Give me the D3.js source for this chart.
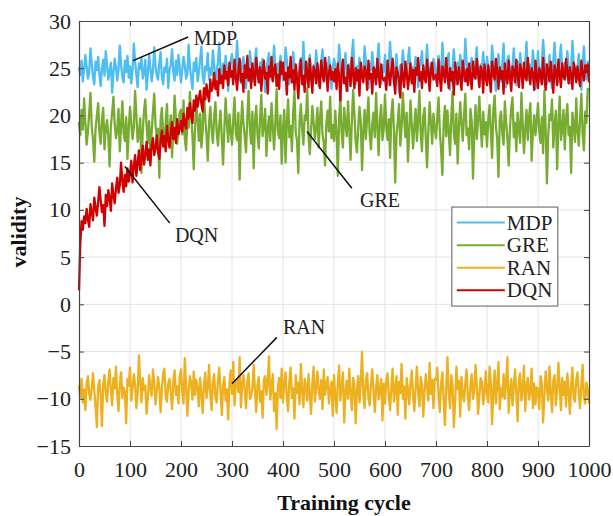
<!DOCTYPE html>
<html>
<head>
<meta charset="utf-8">
<script src="https://cdn.jsdelivr.net/npm/d3@7"></script>
<style>
  body { margin: 0; background: #fff; }
  text { font-family: "Liberation Serif", "Times New Roman", serif; }
</style>
</head>
<body>
<div id="chart"></div>
<script>
// values, one point every 2.5 training cycles
const step = 2.5;
const mdp = [
  25.1,24.3,25.8,23.6,24.9,26.4,25.2,23.9,24.6,27.1,25.5,24.0,23.3,25.7,24.8,26.2,24.4,23.1,25.0,25.9,
  24.2,26.8,25.3,23.8,24.7,25.6,22.4,24.5,26.0,25.1,23.7,24.9,27.4,25.4,24.1,23.5,25.8,24.6,26.3,24.0,
  25.2,23.4,24.8,27.6,25.7,24.3,23.0,25.5,24.9,26.1,23.9,24.5,25.9,22.7,24.4,26.5,25.0,23.6,24.7,27.2,
  25.3,24.2,23.8,25.6,26.7,24.1,23.3,25.1,24.6,26.0,22.9,24.8,25.4,27.0,24.5,23.7,25.8,24.3,26.4,25.0,
  23.5,24.9,26.2,25.3,23.9,24.4,27.5,25.1,24.0,22.8,25.6,24.7,26.1,23.6,24.5,25.9,27.3,24.2,23.4,25.2,
  24.8,26.6,23.8,25.0,24.3,26.9,25.4,23.2,24.6,25.7,27.7,24.9,23.7,25.5,24.1,26.3,25.0,22.6,24.8,25.8,
  26.5,24.4,23.9,25.3,27.9,25.0,24.2,23.4,25.7,26.2,24.6,22.9,25.1,24.0,26.8,25.4,23.6,24.7,25.9,27.1,
  24.3,23.5,25.6,24.8,26.0,25.2,22.5,24.5,25.8,26.6,24.1,23.8,25.3,27.4,24.9,23.2,25.5,24.4,26.3,25.0,
  23.7,24.6,27.2,25.9,24.2,23.3,25.4,24.8,26.7,25.1,23.9,24.5,22.7,25.6,26.1,24.3,27.8,25.0,23.6,24.9,
  25.7,26.4,24.0,23.4,25.3,24.7,26.9,25.2,23.1,24.6,25.8,27.0,24.4,23.8,25.5,24.1,26.2,25.0,22.8,24.9,
  26.0,25.3,23.7,24.8,27.5,25.6,24.2,23.5,25.1,26.6,24.4,22.6,25.4,24.9,26.3,28.0,24.7,23.3,25.2,24.5,
  26.1,25.0,23.9,24.6,27.3,25.7,24.1,22.9,25.5,24.8,26.7,25.1,23.6,24.3,25.9,27.6,24.9,23.4,25.3,24.6,
  26.4,24.0,23.2,25.6,27.8,25.2,24.5,23.7,25.0,26.5,24.2,22.4,25.3,24.8,26.9,25.5,23.9,24.4,25.8,27.2,
  24.6,23.5,25.1,24.7,26.2,25.4,23.0,24.9,25.7,26.8,24.3,23.8,25.2,27.5,24.8,23.4,25.6,24.1,26.0,25.3,
  23.6,24.7,26.3,25.0,24.1,27.7,25.5,23.8,24.6,25.9,26.6,22.7,24.4,25.2,27.0,24.9,23.3,25.6,24.5,26.4,
  25.1,23.7,24.8,28.1,25.7,24.2,23.5,25.3,26.1,24.6,23.9,25.8,27.2,24.3,23.1,25.4,24.9,26.7,25.0,23.8,
  26.2,25.1,23.4,24.8,27.4,25.8,24.3,22.6,25.2,26.5,24.7,23.6,25.5,27.6,24.4,23.0,25.9,26.3,24.6,23.8,
  25.3,27.1,24.9,23.2,25.7,24.2,26.6,25.0,23.5,24.7,25.6,27.8,24.1,23.7,25.4,24.8,26.9,25.2,22.8,24.5,
  26.8,24.2,23.6,25.5,28.0,26.1,24.6,23.3,25.0,26.4,24.0,22.9,25.8,27.7,25.3,24.4,23.5,26.0,27.5,24.7,
  23.9,25.6,24.1,26.8,25.2,23.4,24.9,27.9,25.5,24.3,23.7,25.1,26.5,24.6,22.7,25.4,27.3,24.8,23.8,25.7,
  24.3
];
const gre = [
  19.3,17.9,20.6,18.5,21.8,19.2,16.9,18.3,20.2,22.4,18.8,17.4,15.1,18.6,19.9,21.3,18.2,17.0,19.6,20.8,
  16.4,18.7,19.5,17.8,14.6,18.9,20.3,22.0,19.1,17.6,18.4,20.7,16.2,19.0,21.5,18.1,17.3,19.8,15.4,18.6,
  20.9,19.2,17.5,18.8,22.6,20.1,17.2,18.0,19.7,13.9,18.3,20.5,21.7,18.9,17.1,19.4,16.0,18.2,20.4,22.3,
  19.0,17.7,18.6,13.4,19.5,20.8,18.1,16.7,19.3,21.2,17.4,18.5,20.0,15.6,18.8,22.1,19.6,17.0,18.4,20.3,
  20.6,18.0,21.6,17.5,16.3,19.4,18.7,22.5,20.0,17.8,14.3,18.9,21.1,19.5,17.3,20.2,16.6,18.4,22.7,19.7,
  17.9,15.2,19.2,20.9,18.5,17.1,19.8,21.4,18.2,16.8,19.0,20.5,17.6,14.8,18.6,21.8,19.3,17.2,20.1,18.3,
  16.9,19.5,21.9,18.1,17.4,20.3,13.2,18.7,21.5,19.1,17.7,16.1,19.8,22.6,18.6,17.0,20.4,14.4,19.3,21.0,
  18.0,16.5,19.6,22.2,17.8,18.9,20.7,15.7,18.4,19.9,17.3,21.3,18.8,16.4,19.2,22.8,18.3,17.6,20.0,14.9,
  18.5,20.6,15.0,19.1,21.7,17.7,18.9,16.2,20.4,22.5,18.2,17.3,13.9,19.4,21.2,18.6,16.9,20.0,19.5,22.9,
  17.8,15.9,18.4,21.0,19.3,17.5,18.7,20.8,16.6,19.6,21.5,18.0,17.1,14.7,19.2,20.5,18.3,22.0,17.6,19.0,
  17.3,20.5,18.2,13.6,19.7,22.0,18.1,16.6,20.8,19.0,17.8,21.5,18.5,15.3,19.4,22.7,20.1,17.2,16.1,18.7,
  20.9,19.3,14.2,18.3,20.6,17.5,19.8,21.9,18.0,16.4,19.1,20.3,17.7,22.4,18.9,15.8,19.6,21.1,17.4,18.6,
  22.2,18.8,17.4,19.6,15.5,20.1,21.7,18.5,12.9,17.9,19.3,21.2,16.8,18.7,22.4,19.8,17.7,20.3,15.1,18.2,
  21.6,19.1,16.5,18.8,20.7,17.3,19.5,22.6,18.1,16.2,19.9,20.8,17.6,14.5,18.4,21.4,19.2,17.0,20.2,18.6,
  17.6,19.7,21.9,18.4,16.3,13.7,19.2,21.0,17.8,20.5,18.3,15.8,19.9,22.5,18.1,17.0,20.2,14.9,18.8,21.4,
  19.0,17.3,20.1,22.3,17.9,18.6,16.4,20.7,19.4,13.3,18.2,21.1,17.5,19.6,22.0,18.9,16.7,20.4,18.0,19.3,
  16.7,19.5,21.1,18.4,15.5,20.7,22.1,18.8,17.5,13.5,19.6,20.4,18.1,16.9,21.5,19.3,17.6,14.7,18.6,20.8,
  21.9,17.7,19.2,16.2,20.3,18.5,17.1,22.4,19.0,16.0,18.7,20.6,17.4,19.8,21.3,15.2,18.3,20.0,17.9,19.5,
  21.3,18.3,17.1,19.8,16.0,22.6,18.7,12.8,17.8,20.1,19.5,21.7,16.6,18.9,20.5,14.3,19.1,22.0,17.4,18.5,
  20.6,16.4,19.7,21.2,17.9,18.8,13.9,20.3,19.0,17.2,21.8,18.4,16.8,19.6,22.3,18.1,16.3,20.4,19.2,22.8,
  22.6
];
const ran = [
  -8.6,-9.8,-7.9,-10.4,-9.0,-11.2,-8.3,-7.6,-9.5,-10.1,-8.8,-7.3,-9.2,-10.8,-13.0,-8.7,-8.0,-9.7,-12.9,-8.4,
  -7.5,-9.4,-10.3,-8.1,-6.9,-9.1,-10.7,-7.8,-8.9,-6.6,-9.6,-11.3,-8.5,-7.2,-9.9,-8.8,-9.3,-12.6,-7.9,-8.6,
  -6.7,-10.2,-9.0,-7.4,-8.5,-11.0,-9.5,-5.4,-8.2,-10.4,-7.8,-9.1,-8.6,-11.6,-10.0,-7.5,-8.9,-9.7,-6.9,-8.3,
  -10.6,-9.2,-7.7,-8.8,-11.4,-9.0,-7.3,-6.8,-9.8,-10.3,-8.4,-7.9,-9.4,-11.1,-8.1,-7.0,-9.6,-8.7,-10.5,-7.6,
  -6.9,-9.3,-10.5,-5.7,-8.7,-11.8,-9.2,-7.6,-8.4,-10.1,-7.1,-9.6,-8.0,-8.9,-10.8,-7.8,-9.4,-11.5,-8.5,-7.2,
  -9.9,-8.8,-6.4,-9.5,-11.2,-8.2,-7.4,-9.8,-10.4,-8.1,-6.7,-9.1,-11.7,-8.6,-7.7,-10.2,-9.0,-12.2,-8.3,-7.0,
  -9.5,-6.1,-10.7,-8.4,-7.9,-9.3,-5.6,-10.9,-8.6,-7.5,-9.0,-11.0,-8.2,-7.3,-10.0,-9.7,-8.8,-6.4,-9.1,-11.4,
  -8.5,-7.7,-10.3,-9.2,-12.0,-8.0,-7.6,-9.6,-8.3,-5.5,-10.1,-8.9,-7.4,-11.3,-9.4,-13.2,-8.7,-7.8,-9.9,-6.8,
  -10.4,-8.4,-7.2,-9.8,-11.3,-8.1,-6.7,-9.9,-8.9,-12.1,-7.5,-9.4,-8.3,-10.6,-6.3,-9.0,-10.9,-7.9,-8.6,-10.2,
  -7.4,-9.5,-11.6,-8.4,-6.6,-10.3,-8.8,-7.1,-9.2,-10.0,-8.0,-11.1,-6.9,-9.6,-8.5,-7.7,-10.5,-9.1,-8.2,-11.8,
  -7.5,-9.7,-11.5,-8.3,-6.5,-10.2,-8.7,-7.2,-12.5,-9.3,-8.1,-10.0,-6.8,-9.4,-11.2,-7.8,-8.6,-12.6,-9.1,-7.6,
  -10.4,-8.2,-5.0,-9.5,-11.0,-8.0,-7.3,-9.9,-10.7,-8.5,-6.9,-9.2,-11.4,-8.8,-7.5,-10.1,-9.0,-7.9,-12.3,-8.4,
  -10.5,-8.1,-7.3,-9.7,-11.2,-8.6,-6.8,-10.3,-9.0,-7.6,-11.7,-8.2,-9.4,-6.3,-10.0,-8.7,-12.1,-7.8,-9.1,-10.6,
  -8.3,-7.0,-9.6,-11.3,-8.8,-6.6,-9.3,-10.8,-7.7,-8.5,-11.9,-9.2,-7.4,-8.9,-10.2,-6.2,-9.5,-8.0,-11.0,-7.9,
  -8.0,-6.7,-9.6,-11.4,-8.4,-7.2,-10.1,-12.8,-8.8,-5.6,-9.3,-11.0,-7.5,-8.6,-13.0,-10.4,-6.6,-9.0,-8.1,-11.9,
  -7.7,-9.5,-10.3,-8.3,-6.9,-9.8,-11.2,-8.7,-7.4,-10.0,-9.1,-6.4,-8.5,-11.6,-9.7,-7.8,-8.2,-10.6,-9.4,-7.1,
  -9.5,-10.4,-6.6,-8.3,-12.7,-9.1,-7.0,-10.5,-8.5,-6.1,-11.1,-8.9,-9.8,-7.4,-10.0,-8.2,-5.6,-11.5,-9.2,-7.9,
  -10.7,-8.6,-6.9,-9.4,-12.4,-8.0,-7.3,-10.2,-9.0,-6.5,-11.3,-8.7,-7.8,-10.1,-9.3,-6.8,-11.0,-8.4,-10.6,-8.8,
  -9.0,-11.1,-7.6,-8.4,-12.5,-9.7,-7.1,-8.9,-10.2,-6.6,-9.3,-11.4,-8.1,-7.5,-10.7,-9.2,-6.2,-8.8,-11.2,-7.8,
  -9.6,-8.2,-10.8,-7.3,-9.1,-11.6,-8.5,-6.7,-9.9,-10.3,-8.0,-7.2,-9.4,-11.0,-8.6,-6.4,-9.8,-10.5,-8.3,-9.0,
  -10.5
];
const dqn = [
  1.5,6.4,8.8,7.9,9.3,8.6,10.1,9.0,8.2,10.6,9.7,8.9,11.3,10.2,9.4,10.8,12.4,11.0,9.8,10.5,
  8.3,11.6,10.4,12.1,11.2,9.9,12.8,11.5,10.7,12.3,13.4,11.8,12.6,15.0,13.1,11.9,13.7,12.5,14.4,13.0,
  13.8,15.2,12.9,14.6,15.8,13.6,14.9,16.3,14.2,15.5,16.8,14.8,15.9,17.2,15.3,16.4,14.7,16.9,17.6,15.8,
  16.5,17.9,16.1,15.4,17.3,18.4,16.7,17.8,16.2,18.9,17.4,16.6,18.2,19.3,17.5,18.7,17.1,19.6,18.0,18.6,
  19.4,18.3,20.2,19.1,18.6,20.8,19.7,21.3,20.0,19.2,21.6,20.5,22.1,20.9,21.8,22.6,21.2,20.4,22.9,21.7,
  23.3,22.2,21.5,23.8,22.6,23.1,24.5,22.8,23.6,22.1,24.9,23.4,24.2,22.9,25.3,23.9,24.6,23.2,25.6,24.1,
  24.7,23.3,25.9,24.2,22.7,24.8,26.0,23.6,24.4,22.5,25.3,24.0,26.3,23.7,24.9,22.9,25.5,24.3,23.2,26.1,
  24.6,23.5,25.1,22.6,24.7,25.8,23.9,24.5,22.3,25.2,24.1,26.2,23.6,24.8,25.4,23.1,24.3,22.8,25.7,24.4,
  25.6,23.8,24.5,22.2,25.1,24.0,26.2,23.5,24.8,22.7,25.4,23.9,21.8,24.6,25.9,23.3,24.2,22.5,25.7,24.5,
  23.0,26.0,24.1,22.4,25.2,24.7,23.4,25.5,24.0,22.9,25.8,24.3,23.6,26.1,24.9,22.6,24.4,25.3,23.8,24.6,
  23.6,24.9,22.8,25.5,24.2,21.6,24.7,25.9,23.4,24.0,22.6,25.3,24.5,23.1,26.1,24.4,22.9,25.0,23.7,24.8,
  22.1,25.6,24.3,23.5,25.2,24.6,22.7,25.8,23.9,24.4,22.3,25.1,24.8,23.3,26.0,24.2,23.0,25.4,24.0,23.7,
  24.0,22.7,25.8,24.4,23.2,24.9,26.0,23.6,22.3,25.1,24.5,23.8,21.9,25.4,24.1,23.0,25.7,24.6,22.8,24.2,
  25.5,23.4,24.8,22.5,25.0,24.3,26.1,23.7,24.6,22.9,25.3,24.0,23.5,25.9,24.4,22.6,24.9,25.6,23.8,24.2,
  24.3,23.1,25.9,24.0,22.6,25.2,24.7,23.5,26.1,24.2,22.9,25.0,23.7,24.6,22.2,25.6,24.4,23.3,25.1,24.0,
  22.7,25.8,24.5,23.6,24.9,23.2,25.5,24.1,22.8,25.7,24.3,23.9,26.0,24.6,23.0,25.2,24.8,22.4,25.4,24.1,
  23.2,25.3,24.1,22.5,25.7,24.4,23.8,26.0,24.6,22.8,25.1,23.9,24.7,22.3,25.5,24.2,23.4,25.8,24.0,22.6,
  25.2,24.8,23.5,25.9,24.3,23.0,25.4,24.7,22.9,25.6,24.1,23.7,26.1,24.5,23.3,25.0,24.4,22.7,25.8,24.2,
  22.9,25.0,24.5,23.3,26.1,24.0,22.7,25.4,24.8,23.6,25.7,24.1,22.4,25.3,24.6,23.2,25.9,24.4,23.0,25.5,
  24.2,23.8,26.0,24.7,23.4,25.1,24.3,22.8,25.6,24.9,23.5,25.2,24.0,23.1,25.8,24.5,23.7,25.3,24.6,25.4,
  23.5
];

const seriesNames = ["MDP", "GRE", "RAN", "DQN"];
const seriesValues = [mdp, gre, ran, dqn];
const seriesColors = ["#4DBEEE", "#77AC30", "#EDB120", "#D00000"];
const xTicks = [0, 100, 200, 300, 400, 500, 600, 700, 800, 900, 1000];
const yTicks = [-15, -10, -5, 0, 5, 10, 15, 20, 25, 30];

// callouts in data units: name, pointer start, pointer end, label baseline
const callouts = [
  { name: "MDP", from: [106, 25.8], to: [214, 28.3], at: [225, 27.5] },
  { name: "DQN", from: [90, 14.6], to: [178, 8.6], at: [188, 6.6] },
  { name: "GRE", from: [447, 18.3], to: [535, 12.3], at: [551, 10.3] },
  { name: "RAN", from: [300, -8.4], to: [388, -3.5], at: [400, -3.1] }
];

const width = 613, height = 516;
const margin = { top: 21, right: 24, bottom: 70, left: 79 };
const iw = width - margin.left - margin.right;
const ih = height - margin.top - margin.bottom;

const svg = d3.select("#chart").append("svg")
  .attr("width", width)
  .attr("height", height);

const g = svg.append("g").attr("transform", `translate(${margin.left},${margin.top})`);

const x = d3.scaleLinear().domain([0, 1000]).range([0, iw]);
const y = d3.scaleLinear().domain([-15, 30]).range([ih, 0]);

// grid
g.append("g").selectAll("line").data(xTicks.slice(1, -1)).join("line")
  .attr("x1", d => x(d)).attr("x2", d => x(d))
  .attr("y1", 0).attr("y2", ih)
  .attr("stroke", "#e3e3e3").attr("stroke-width", 1);
g.append("g").selectAll("line").data(yTicks.slice(1, -1)).join("line")
  .attr("y1", d => y(d)).attr("y2", d => y(d))
  .attr("x1", 0).attr("x2", iw)
  .attr("stroke", "#e3e3e3").attr("stroke-width", 1);

// series, DQN drawn last so it sits on top
const line = d3.line()
  .x((d, i) => x(i * step))
  .y(d => y(d));

seriesValues.forEach((vals, k) => {
  g.append("path")
    .datum(vals)
    .attr("fill", "none")
    .attr("stroke", seriesColors[k])
    .attr("stroke-width", 2.3)
    .attr("stroke-linejoin", "round")
    .attr("d", line);
});

// axes, ticks pointing inward on all four sides
const fmt = d => d < 0 ? "\u2212" + Math.abs(d) : String(d);
const styleAxis = sel => {
  sel.select(".domain").attr("stroke", "#444").attr("stroke-width", 1.2);
  sel.selectAll(".tick line").attr("stroke", "#444");
  sel.selectAll(".tick text")
    .attr("fill", "#222")
    .style("font-size", "22px")
    .style("font-family", "'Liberation Serif', serif");
};

g.append("g")
  .attr("transform", `translate(0,${ih})`)
  .call(d3.axisBottom(x).tickValues(xTicks).tickFormat(fmt).tickSizeInner(-5).tickSizeOuter(0).tickPadding(15))
  .call(styleAxis);
g.append("g")
  .call(d3.axisLeft(y).tickValues(yTicks).tickFormat(fmt).tickSizeInner(-5).tickSizeOuter(0).tickPadding(8))
  .call(styleAxis);
g.append("g")
  .call(d3.axisTop(x).tickValues(xTicks).tickFormat("").tickSizeInner(-5).tickSizeOuter(0))
  .call(styleAxis);
g.append("g")
  .attr("transform", `translate(${iw},0)`)
  .call(d3.axisRight(y).tickValues(yTicks).tickFormat("").tickSizeInner(-5).tickSizeOuter(0))
  .call(styleAxis);

// axis titles
svg.append("text")
  .attr("x", 344)
  .attr("y", 510)
  .attr("text-anchor", "middle")
  .attr("fill", "#111")
  .style("font-size", "22px")
  .style("font-weight", "bold")
  .text("Training cycle");

svg.append("text")
  .attr("transform", `translate(26,232) rotate(-90)`)
  .attr("text-anchor", "middle")
  .attr("fill", "#111")
  .style("font-size", "22px")
  .style("font-weight", "bold")
  .text("validity");

// callouts
callouts.forEach(c => {
  g.append("line")
    .attr("x1", x(c.from[0])).attr("y1", y(c.from[1]))
    .attr("x2", x(c.to[0])).attr("y2", y(c.to[1]))
    .attr("stroke", "#111").attr("stroke-width", 1.5);
  g.append("text")
    .attr("x", x(c.at[0])).attr("y", y(c.at[1]))
    .attr("fill", "#222")
    .style("font-size", "20px")
    .text(c.name);
});

// legend box
const legend = g.append("g")
  .attr("transform", `translate(${x(731)},${y(10.3)})`);

legend.append("rect")
  .attr("width", 106).attr("height", 99)
  .attr("fill", "#fff")
  .attr("stroke", "#777").attr("stroke-width", 1.2);

const rows = legend.selectAll("g.item")
  .data(seriesNames)
  .join("g")
  .attr("class", "item")
  .attr("transform", (d, i) => `translate(0,${15.5 + i * 22.6})`);

rows.append("line")
  .attr("x1", 5).attr("x2", 53)
  .attr("stroke", (d, i) => seriesColors[i])
  .attr("stroke-width", 2);

rows.append("text")
  .attr("x", 55).attr("y", 7)
  .attr("fill", "#222")
  .style("font-size", "21px")
  .text(d => d);
</script>
</body>
</html>
